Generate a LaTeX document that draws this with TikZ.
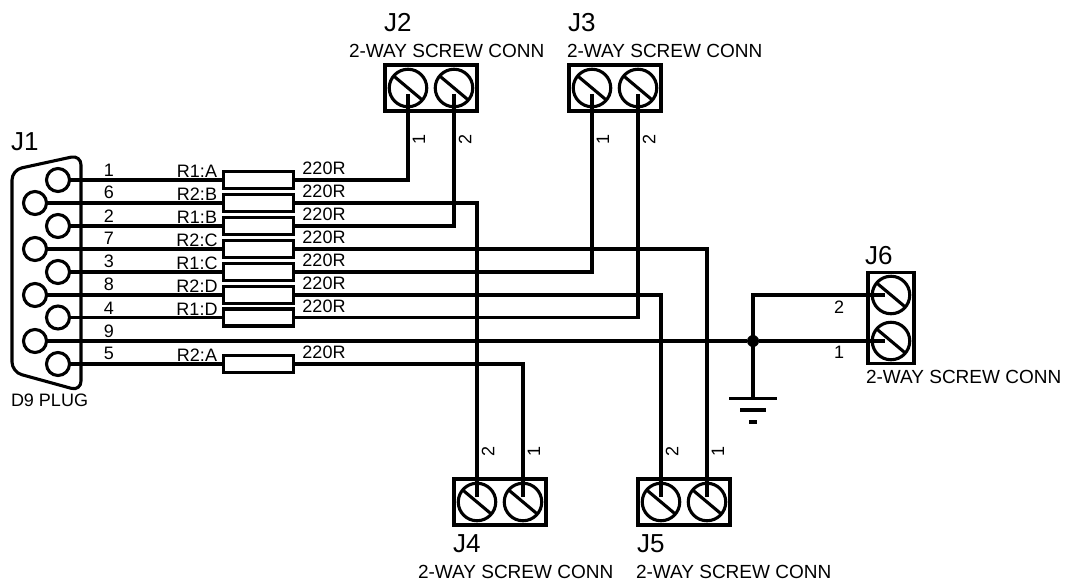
\documentclass[tikz,border=0pt]{standalone}
\usepackage{fontspec}
\setmainfont{Liberation Sans}
\tikzset{
  wire/.style={line width=3.1pt,line join=miter},
  thinpart/.style={line width=3.1pt},
  dpin/.style={circle,draw,line width=3.1pt,fill=white,minimum size=23pt,inner sep=0pt,outer sep=0pt},
  resbox/.style={rectangle,draw,line width=3.3pt,fill=white,minimum width=70pt,minimum height=17pt,inner sep=0pt,outer sep=0pt},
  hblock/.style={rectangle,draw,line width=3.3pt,fill=white,minimum width=92pt,minimum height=46pt,inner sep=0pt,outer sep=0pt},
  vblock/.style={rectangle,draw,line width=3.3pt,fill=white,minimum width=46pt,minimum height=91pt,inner sep=0pt,outer sep=0pt},
  screw/.style={circle,draw,line width=3.1pt,minimum size=37.5pt,inner sep=0pt,outer sep=0pt},
  txt/.style={inner sep=0pt,outer sep=0pt,font=\fontsize{18}{18}\selectfont},
  conntxt/.style={txt,anchor=west,font=\fontsize{19}{19}\selectfont},
  reftxt/.style={inner sep=0pt,outer sep=0pt,anchor=west,font=\fontsize{26}{26}\selectfont},
  rottxt/.style={txt,rotate=90},
  junction/.style={circle,fill=black,minimum size=12pt,inner sep=0pt,outer sep=0pt}
}
\begin{document}
\begin{tikzpicture}[x=1pt,y=-1pt]
\useasboundingbox[fill=white] (0,0) rectangle (1078,582);
% shell
\draw[thinpart,rounded corners=10pt] (12,270) -- (12,170) -- (81,155) -- (81,391) -- (12,372) -- cycle;
% D9 pins
\node[dpin] (p1) at (58,180) {};
\node[dpin] (p6) at (35,203) {};
\node[dpin] (p2) at (58,226) {};
\node[dpin] (p7) at (35,249) {};
\node[dpin] (p3) at (58,272) {};
\node[dpin] (p8) at (35,295) {};
\node[dpin] (p4) at (58,317.5) {};
\node[dpin] (p9) at (35,341) {};
\node[dpin] (p5) at (58,364) {};
% resistors
\node[resbox] (ra) at (258.5,180) {};
\node[resbox] (rb) at (258.5,203) {};
\node[resbox] (rc) at (258.5,226) {};
\node[resbox] (rd) at (258.5,249) {};
\node[resbox] (re) at (258.5,272) {};
\node[resbox] (rf) at (258.5,295) {};
\node[resbox] (rg) at (258.5,317.5) {};
\node[resbox] (rh) at (258.5,364) {};
% terminal blocks
\node[hblock] (j2) at (431,88) {};
\node[screw] (j2a) at (408,88) {};
\node[screw] (j2b) at (454,88) {};
\node[hblock] (j3) at (615,88) {};
\node[screw] (j3a) at (592,88) {};
\node[screw] (j3b) at (638,88) {};
\node[hblock] (j4) at (500,502) {};
\node[screw] (j4a) at (477,502) {};
\node[screw] (j4b) at (523,502) {};
\node[hblock] (j5) at (684,502) {};
\node[screw] (j5a) at (661,502) {};
\node[screw] (j5b) at (707,502) {};
\node[vblock] (j6) at (891,318) {};
\node[screw] (j6a) at (891,295) {};
\node[screw] (j6b) at (891,341) {};
\foreach \s in {j2a,j2b,j3a,j3b,j4a,j4b,j5a,j5b,j6a,j6b}
  \draw[thinpart] (\s.140) -- (\s.-40);
% wire ends inside the screws
\coordinate (e2a) at (408,94);
\coordinate (e2b) at (454,94);
\coordinate (e3a) at (592,94);
\coordinate (e3b) at (638,94);
\coordinate (e4a) at (477,497);
\coordinate (e4b) at (523,497);
\coordinate (e5a) at (661,497);
\coordinate (e5b) at (707,497);
\coordinate (e6a) at (885,295);
\coordinate (e6b) at (885,341);
\node[junction] (dot) at (753,341) {};
\coordinate (gnd) at (753,398.5);
\coordinate (g1l) at (729,398.5);
\coordinate (g1r) at (777,398.5);
\coordinate (g2l) at (740,410);
\coordinate (g2r) at (766,410);
\coordinate (g3l) at (749,422);
\coordinate (g3r) at (757,422);
% connectors
\foreach \p/\r in {p1/ra,p6/rb,p2/rc,p7/rd,p3/re,p8/rf,p4/rg,p5/rh}
  \draw[wire] (\p.east) -- (\r.west);
\draw[wire] (ra.east) -| (e2a);
\draw[wire] (rc.east) -| (e2b);
\draw[wire] (re.east) -| (e3a);
\draw[wire] (rg.east) -| (e3b);
\draw[wire] (rb.east) -| (e4a);
\draw[wire] (rh.east) -| (e4b);
\draw[wire] (rf.east) -| (e5a);
\draw[wire] (rd.east) -| (e5b);
\draw[wire] (p9.east) -- (dot) -- (e6b);
\draw[wire] (gnd) |- (e6a);
\draw[wire] (g1l) -- (g1r);
\draw[wire] (g2l) -- (g2r);
\draw[wire] (g3l) -- (g3r);
% pin numbers
\node[txt] (n1) at (109,170) {1};
\node[txt] (n6) at (109,192) {6};
\node[txt] (n2) at (109,216) {2};
\node[txt] (n7) at (109,238) {7};
\node[txt] (n3) at (109,261) {3};
\node[txt] (n8) at (109,284) {8};
\node[txt] (n4) at (109,308) {4};
\node[txt] (n9) at (109,331) {9};
\node[txt] (n5) at (109,353) {5};
% resistor names
\node[txt] (la) at (197,171) {R1:A};
\node[txt] (lb) at (197,194) {R2:B};
\node[txt] (lc) at (197,217) {R1:B};
\node[txt] (ld) at (197,240) {R2:C};
\node[txt] (le) at (197,263) {R1:C};
\node[txt] (lf) at (197,286) {R2:D};
\node[txt] (lg) at (197,309) {R1:D};
\node[txt] (lh) at (197,355) {R2:A};
% resistor values
\node[txt] (va) at (324,168) {220R};
\node[txt] (vb) at (324,191) {220R};
\node[txt] (vc) at (324,214) {220R};
\node[txt] (vd) at (324,237) {220R};
\node[txt] (ve) at (324,260) {220R};
\node[txt] (vf) at (324,283) {220R};
\node[txt] (vg) at (324,306) {220R};
\node[txt] (vh) at (324,352) {220R};
% references
\node[reftxt] (t1) at (11,142) {J1};
\node[txt,anchor=west] (t1b) at (11,400) {D9 PLUG};
\node[reftxt] (t2) at (384,23) {J2};
\node[conntxt] (t2b) at (349,51) {2-WAY SCREW CONN};
\node[reftxt] (t3) at (568,23) {J3};
\node[conntxt] (t3b) at (567,51) {2-WAY SCREW CONN};
\node[reftxt] (t4) at (453,544) {J4};
\node[conntxt] (t4b) at (418,572) {2-WAY SCREW CONN};
\node[reftxt] (t5) at (637,544) {J5};
\node[conntxt] (t5b) at (636,572) {2-WAY SCREW CONN};
\node[reftxt] (t6) at (865,256) {J6};
\node[conntxt] (t6b) at (866,377) {2-WAY SCREW CONN};
% terminal numbers
\node[rottxt] (a1) at (419,139) {1};
\node[rottxt] (a2) at (465,139) {2};
\node[rottxt] (a3) at (603,139) {1};
\node[rottxt] (a4) at (649,139) {2};
\node[rottxt] (a5) at (488,451) {2};
\node[rottxt] (a6) at (534,451) {1};
\node[rottxt] (a7) at (672,451) {2};
\node[rottxt] (a8) at (718,451) {1};
\node[txt] (a9) at (839,307) {2};
\node[txt] (a10) at (839,352) {1};
\end{tikzpicture}
\end{document}
